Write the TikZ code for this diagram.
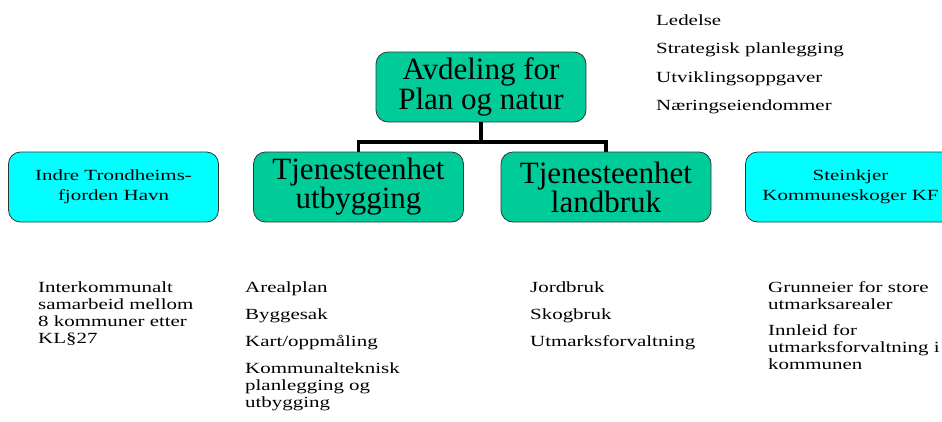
\documentclass[tikz,border=0pt]{standalone}
\usepackage{fontspec}
\setmainfont{Liberation Serif}
\newfontfamily\listfont[FakeStretch=1.35]{Liberation Serif}
\definecolor{plangreen}{RGB}{0,204,153}
\definecolor{havncyan}{RGB}{0,255,255}
\tikzset{
  unitbox/.style={draw=black!80, line width=0.8pt, rounded corners=12pt, fill=plangreen,
    minimum width=210pt, minimum height=70pt, align=center, inner sep=0pt,
    font=\rmfamily\fontsize{31}{28}\selectfont},
  sidebox/.style={unitbox, fill=havncyan, font=\listfont\fontsize{15.5}{20}\selectfont},
  task/.style={anchor=base west, align=left, inner sep=0pt, font=\listfont\fontsize{15.5}{17}\selectfont},
  orgline/.style={line width=3.2pt}
}
\begin{document}
\begin{tikzpicture}[x=1pt,y=-1pt]
\clip (0,0) rectangle (942,421);
\node[unitbox] (plan) at (481,87) {Avdeling for\\Plan og natur};
\node[unitbox] (utb) at (358.5,187) {Tjenesteenhet\\utbygging};
\node[unitbox] (land) at (606,187) {Tjenesteenhet\\landbruk};
\node[sidebox] (havn) at (113.5,187) {Indre Trondheims-\\fjorden Havn};
\node[sidebox] (skog) at (850.5,187) {Steinkjer\\Kommuneskoger KF};
\coordinate (bar) at (481,142);
\draw[orgline] (plan.south) -- (bar);
\draw[orgline] (utb.north) |- (bar) -| (land.north);
% stab
\node[task] (led) at (656,25) {Ledelse};
\node[task] (strat) at (656,53) {Strategisk planlegging};
\node[task] (utv) at (656,82) {Utviklingsoppgaver};
\node[task] (naer) at (656,110) {Næringseiendommer};
% oppgaver (base = last line)
\node[task] (havnoppg) at (38,343) {Interkommunalt\\samarbeid mellom\\8 kommuner etter\\KL§27};
\node[task] (areal) at (245,292) {Arealplan};
\node[task] (bygg) at (245,319) {Byggesak};
\node[task] (kart) at (245,346) {Kart/oppmåling};
\node[task] (komm) at (245,407) {Kommunalteknisk\\planlegging og\\utbygging};
\node[task] (jord) at (530,292) {Jordbruk};
\node[task] (skogb) at (530,319) {Skogbruk};
\node[task] (utm) at (530,346) {Utmarksforvaltning};
\node[task] (grunn) at (768,309) {Grunneier for store\\utmarksarealer};
\node[task] (innl) at (768,369) {Innleid for\\utmarksforvaltning i\\kommunen};
\end{tikzpicture}
\end{document}
